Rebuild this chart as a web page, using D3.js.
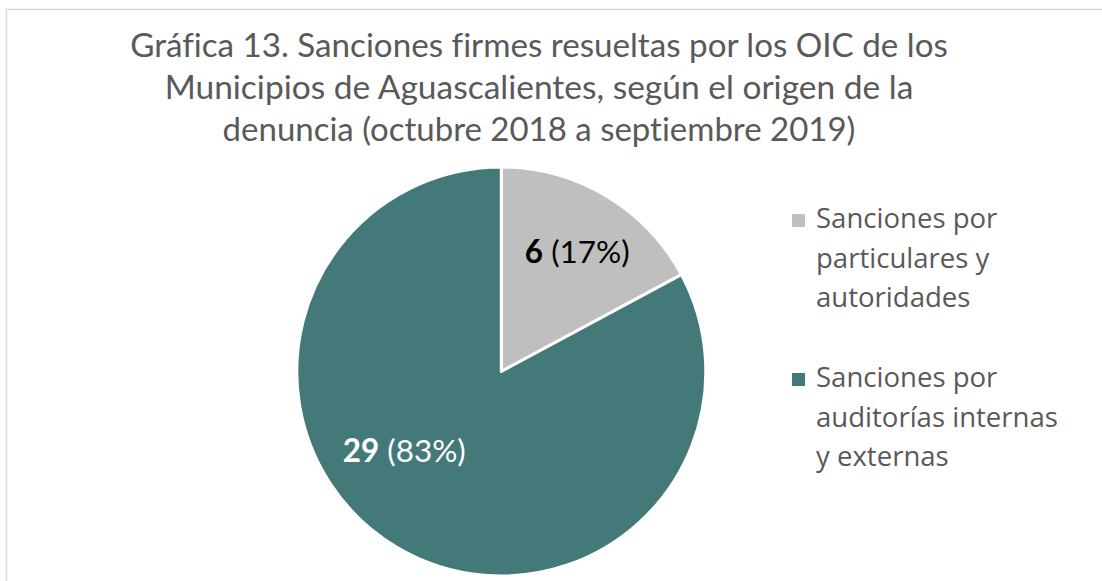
<!DOCTYPE html>
<html><head><meta charset="utf-8">
<script src="https://cdn.jsdelivr.net/npm/d3@7"></script>
<style>html,body{margin:0;padding:0;background:#fff;}svg{display:block;}text{font-variant-ligatures:none;font-feature-settings:"liga" 0,"dlig" 0;}</style>
</head><body>
<svg id="c" width="1102" height="581"></svg>
<script>
const categories = ["Sanciones por particulares y autoridades", "Sanciones por auditorías internas y externas"];
const values = [6, 29];
const colors = ["#BFBFBF", "#44797A"];
const legendLines = [["Sanciones por", "particulares y", "autoridades"], ["Sanciones por", "auditorías internas", "y externas"]];
const titleLines = ["Gráfica 13. Sanciones firmes resueltas por los OIC de los", "Municipios de Aguascalientes, según el origen de la", "denuncia (octubre 2018 a septiembre 2019)"];

const svg = d3.select("#c");
const FONT = "Lato, 'Open Sans', sans-serif";

// frame
svg.append("rect").attr("x", 6.5).attr("y", 9.5).attr("width", 1120).attr("height", 600)
  .attr("fill", "none").attr("stroke", "#D9D9D9").attr("stroke-width", 1.5);

function fit(sel, target) {
  const w = sel.node().getComputedTextLength();
  const fs = parseFloat(sel.attr("font-size"));
  sel.attr("font-size", fs * target / w);
}

// title
const titleW = [818, 749, 633];
const titleY = [57, 99, 141];
titleLines.forEach((t, i) => {
  const s = svg.append("text").attr("x", 539).attr("y", titleY[i]).attr("text-anchor", "middle")
    .attr("font-family", FONT).attr("font-size", 29).attr("fill", "#595959").text(t);
  fit(s, titleW[i]);
});

// pie
const cx = 501.3, cy = 371.5, R = 204.5;
const pie = d3.pie().sort(null).value(d => d)(values);
const arc = d3.arc().innerRadius(0).outerRadius(R);
const g = svg.append("g").attr("transform", `translate(${cx},${cy})`);
g.selectAll("path").data(pie).join("path").attr("d", arc)
  .attr("fill", (d, i) => colors[i]).attr("stroke", "#fff").attr("stroke-width", 3).attr("stroke-linejoin", "round");

// data labels
const total = d3.sum(values);
const labelPos = [[76, -108.5], [-97, 90.5]];
const labelW = [105, 123];
const labelColor = ["#000", "#fff"];
pie.forEach((d, i) => {
  const t = g.append("text").attr("x", labelPos[i][0]).attr("y", labelPos[i][1]).attr("text-anchor", "middle")
    .attr("font-family", FONT).attr("font-size", 26).attr("fill", labelColor[i]);
  t.append("tspan").attr("font-weight", 700).text(values[i]);
  t.append("tspan").text(" (" + Math.round(values[i] / total * 100) + "%)");
  fit(t, labelW[i]);
});

// legend
const legY = [[228, 268, 307], [387, 427, 466]];
const lg = svg.append("g");
categories.forEach((c, i) => {
  lg.append("rect").attr("x", 792).attr("y", legY[i][0] - 14).attr("width", 13).attr("height", 13).attr("fill", colors[i]);
  legendLines[i].forEach((l, j) => {
    const s = lg.append("text").attr("x", 816).attr("y", legY[i][j]).attr("font-family", "'Open Sans', sans-serif")
      .attr("font-size", 26).attr("fill", "#595959").text(l);
    if (i === 1 && j === 1) s.attr("data-fit", 1);
  });
});
const ref = lg.select("[data-fit]");
const w0 = ref.node().getComputedTextLength();
const fsL = 26 * 242 / w0;
lg.selectAll("text").attr("font-size", fsL);
</script>
</body></html>
